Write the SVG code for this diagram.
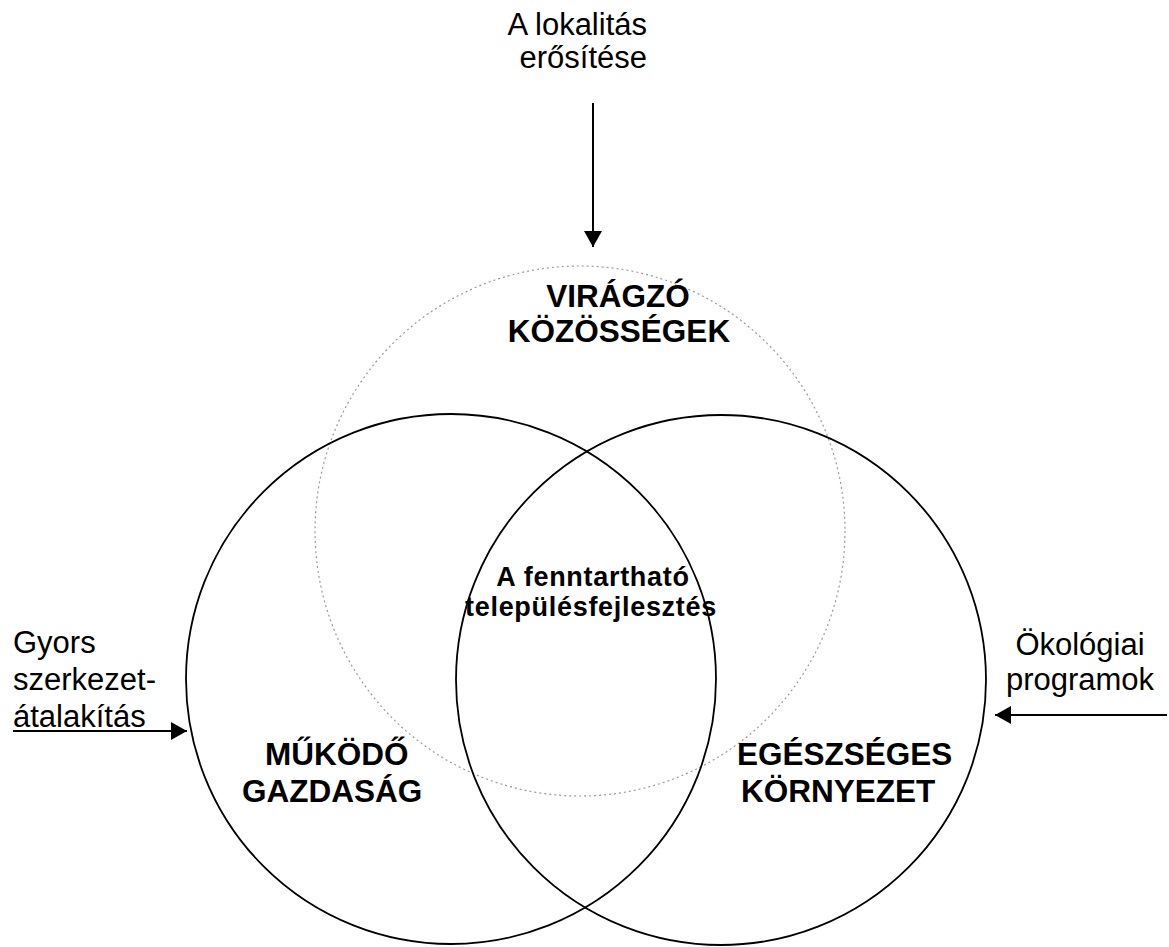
<svg xmlns="http://www.w3.org/2000/svg" width="1169" height="947" viewBox="0 0 1169 947">
<style>
  .bg { fill: #ffffff; }
  .ring { fill: none; stroke: #000; stroke-width: 1.8; }
  .ring-faint { fill: none; stroke: #9a9a9a; stroke-width: 1.2; stroke-dasharray: 2 3; }
  .lbl { font-family: "Liberation Sans", Arial, sans-serif; font-weight: bold; font-size: 31.5px; fill: #000; }
  .lbl-c { font-family: "Liberation Sans", Arial, sans-serif; font-weight: bold; font-size: 27px; letter-spacing: 0.7px; fill: #000; text-anchor: middle; }
  .note { font-family: "Liberation Sans", Arial, sans-serif; font-size: 31px; fill: #000; }
  .conn { stroke: #000; stroke-width: 2; fill: none; }
</style>
<defs>
  <marker id="arrow" markerUnits="userSpaceOnUse" markerWidth="17" markerHeight="18" refX="16" refY="9" orient="auto">
    <path d="M0,0 L16,9 L0,18 Z" fill="#000"/>
  </marker>
</defs>
<rect class="bg" x="0" y="0" width="1169" height="947"/>

<g id="communities">
  <circle class="ring-faint" cx="580" cy="531" r="265"/>
  <text class="lbl" x="618" y="307" text-anchor="middle">VIRÁGZÓ</text>
  <text class="lbl" x="619" y="342" text-anchor="middle">KÖZÖSSÉGEK</text>
</g>

<g id="economy">
  <circle class="ring" cx="451" cy="679" r="265"/>
  <text class="lbl" x="265" y="765">MŰKÖDŐ</text>
  <text class="lbl" x="242" y="802">GAZDASÁG</text>
</g>

<g id="environment">
  <circle class="ring" cx="721" cy="680" r="265"/>
  <text class="lbl" x="737" y="765">EGÉSZSÉGES</text>
  <text class="lbl" x="741" y="802">KÖRNYEZET</text>
</g>

<g id="sustainable">
  <text class="lbl-c" x="593" y="586">A fenntartható</text>
  <text class="lbl-c" x="591" y="616">településfejlesztés</text>
</g>

<g id="locality">
  <text class="note" x="647" y="35" text-anchor="end">A lokalitás</text>
  <text class="note" x="647" y="68" text-anchor="end">erősítése</text>
</g>

<g id="restructuring">
  <text class="note" x="13" y="653">Gyors</text>
  <text class="note" x="13" y="690">szerkezet-</text>
  <text class="note" x="13" y="727">átalakítás</text>
</g>

<g id="ecological">
  <text class="note" x="1080" y="655" text-anchor="middle">Ökológiai</text>
  <text class="note" x="1080" y="690" text-anchor="middle">programok</text>
</g>

<g id="connectors">
  <line class="conn" x1="593" y1="103" x2="593" y2="247" marker-end="url(#arrow)"/>
  <line class="conn" x1="13" y1="731" x2="187" y2="731" marker-end="url(#arrow)"/>
  <line class="conn" x1="1167" y1="715" x2="995" y2="715" marker-end="url(#arrow)"/>
</g>
</svg>
